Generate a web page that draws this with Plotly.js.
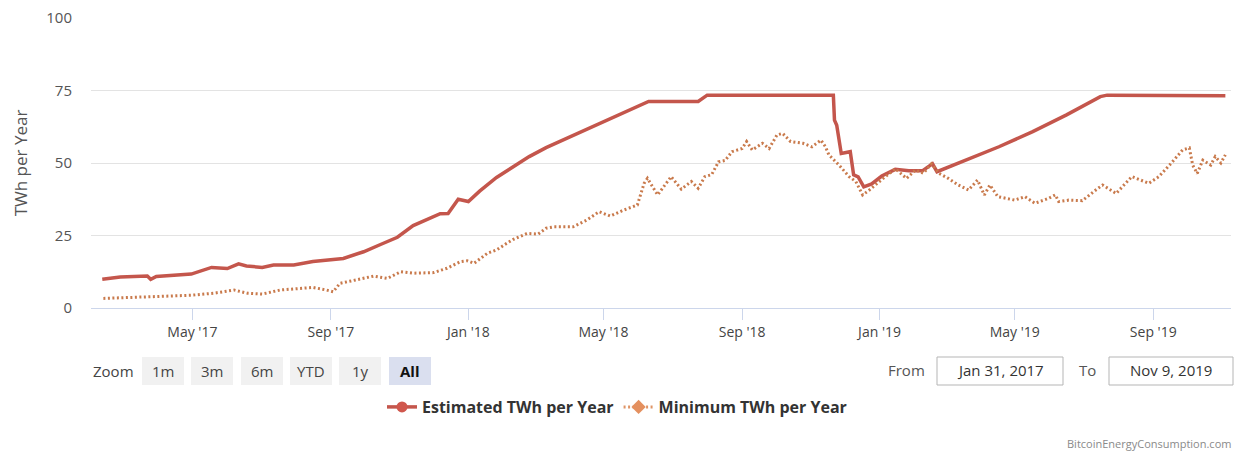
<!DOCTYPE html>
<html>
<head>
<meta charset="utf-8">
<script src="https://cdn.plot.ly/plotly-3.0.1.min.js"></script>
<style>
  html, body { margin: 0; padding: 0; background: #ffffff; }
  #chart { width: 1235px; height: 452px; }
</style>
</head>
<body>
<div id="chart"></div>
<script>
// ---------------- DATA ----------------
const estDates = ['2017-02-10','2017-02-26','2017-03-22','2017-03-25','2017-03-30','2017-04-30','2017-05-18','2017-06-01','2017-06-11','2017-06-18','2017-07-02','2017-07-12','2017-07-30','2017-08-16','2017-09-12','2017-09-30','2017-10-15','2017-10-30','2017-11-13','2017-11-25','2017-12-07','2017-12-14','2017-12-23','2018-01-01','2018-01-11','2018-01-26','2018-02-10','2018-02-24','2018-03-11','2018-03-29','2018-04-19','2018-05-10','2018-05-28','2018-06-10','2018-07-24','2018-08-01','2018-11-21','2018-11-22','2018-11-24','2018-11-28','2018-12-06','2018-12-09','2018-12-13','2018-12-18','2018-12-25','2019-01-03','2019-01-15','2019-01-27','2019-02-08','2019-02-17','2019-02-21','2019-03-18','2019-04-17','2019-05-17','2019-06-16','2019-07-16','2019-07-22','2019-11-04'];
const estValues = [9.9,10.7,11.0,9.9,10.9,11.7,14.0,13.6,15.2,14.5,14.0,14.8,14.8,16.0,17.1,19.4,21.9,24.4,28.4,30.5,32.5,32.6,37.5,36.7,40.3,45.0,48.6,52.2,55.3,58.5,62.0,66.0,69.2,71.2,71.2,73.4,73.4,64.8,63.0,53.3,53.9,45.9,45.2,41.8,42.8,45.5,47.8,47.3,47.3,49.7,47.0,51.0,55.6,60.8,66.6,72.9,73.4,73.2];

const minDates = ['2017-02-11','2017-02-26','2017-03-22','2017-04-12','2017-04-30','2017-05-20','2017-06-07','2017-06-19','2017-07-02','2017-07-18','2017-08-16','2017-08-28','2017-09-03','2017-09-09','2017-09-30','2017-10-09','2017-10-21','2017-11-02','2017-11-13','2017-12-01','2017-12-13','2017-12-25','2017-12-31','2018-01-06','2018-01-18','2018-01-26','2018-02-04','2018-02-10','2018-02-22','2018-03-04','2018-03-11','2018-03-18','2018-04-04','2018-04-16','2018-04-27','2018-05-07','2018-05-19','2018-05-31','2018-06-06','2018-06-09','2018-06-18','2018-06-30','2018-07-09','2018-07-18','2018-07-24','2018-07-30','2018-08-05','2018-08-11','2018-08-17','2018-08-23','2018-09-01','2018-09-05','2018-09-10','2018-09-19','2018-09-25','2018-10-02','2018-10-07','2018-10-14','2018-10-25','2018-11-02','2018-11-10','2018-11-14','2018-11-17','2018-11-26','2018-12-05','2018-12-11','2018-12-17','2018-12-23','2019-01-03','2019-01-15','2019-01-25','2019-02-02','2019-02-09','2019-02-16','2019-02-23','2019-03-03','2019-03-12','2019-03-21','2019-03-29','2019-04-04','2019-04-09','2019-04-16','2019-05-01','2019-05-10','2019-05-19','2019-05-31','2019-06-06','2019-06-09','2019-06-18','2019-06-30','2019-07-12','2019-07-18','2019-07-30','2019-08-13','2019-08-28','2019-09-06','2019-09-18','2019-09-27','2019-10-03','2019-10-06','2019-10-10','2019-10-15','2019-10-22','2019-10-26','2019-10-31','2019-11-04'];
const minValues = [3.3,3.5,3.9,4.1,4.4,5.1,6.2,5.1,4.8,6.2,7.1,6.2,5.6,8.5,10.2,11.0,10.2,12.5,12.0,12.2,13.7,16.0,16.3,15.4,18.9,20.0,22.3,23.7,25.7,25.5,27.5,28.0,28.0,30.3,33.2,31.7,33.8,35.5,43.0,44.7,39.0,45.3,41.0,43.6,41.3,45.3,46.0,50.4,50.9,53.9,55.0,57.4,54.5,56.8,55.0,59.7,60.2,57.4,56.8,55.6,57.9,55.6,52.8,49.3,45.3,43.6,39.0,40.7,44.3,48.0,44.7,47.6,46.5,49.7,46.4,44.7,42.4,40.7,44.1,39.0,42.4,38.4,37.2,38.4,36.1,37.8,39.0,36.7,37.2,37.0,40.7,42.4,39.5,45.3,43.0,45.3,50.4,54.5,55.2,49.3,46.4,51.0,49.3,52.2,50.0,52.8];

const seriesNames = ['Estimated TWh per Year', 'Minimum TWh per Year'];
const yTickValues = [0, 25, 50, 75, 100];
const zoomButtons = ['1m', '3m', '6m', 'YTD', '1y', 'All'];
const rangeFrom = 'Jan 31, 2017';
const rangeTo = 'Nov 9, 2019';
const xRange = ['2017-01-31', '2019-11-09'];
const yTitle = 'TWh per Year';
const creditText = 'BitcoinEnergyConsumption.com';

// ---------------- LAYOUT HELPERS ----------------
const W = 1235, H = 452;
const ML = 91, MR = 4, MT = 18, MB = 144;
const PW = W - ML - MR, PH = H - MT - MB;
const px = x => (x - ML) / PW;
const py = y => (MT + PH - y) / PH;

const FONT = 'Open Sans, Lato, sans-serif';
const RED = '#c4564c';
const ORANGE = '#c97a4c';

const traces = [
  {
    x: estDates, y: estValues, name: seriesNames[0], type: 'scatter',
    mode: 'lines', showlegend: false, legendgroup: 'est',
    line: { color: RED, width: 3.5 },
    hoverinfo: 'x+y+name'
  },
  {
    x: minDates, y: minValues, name: seriesNames[1], type: 'scatter',
    mode: 'lines', showlegend: false, legendgroup: 'min',
    line: { color: ORANGE, width: 3, dash: '2px,2.5px' },
    hoverinfo: 'x+y+name'
  },
  // legend entries (line + marker symbol, as in the reference legend)
  {
    x: [null], y: [null], name: seriesNames[0], type: 'scatter', legendgroup: 'est',
    mode: 'lines+markers', line: { color: RED, width: 3.5 },
    marker: { color: '#d0574d', size: 11, symbol: 'circle' }
  },
  {
    x: [null], y: [null], name: seriesNames[1], type: 'scatter', legendgroup: 'min',
    mode: 'lines+markers', line: { color: '#df9466', width: 3, dash: '2px,2.5px' },
    marker: { color: '#e4905f', size: 11, symbol: 'diamond' }
  }
];

const shapes = [];
const annotations = [];

// Zoom label
annotations.push({ xref: 'paper', yref: 'paper', x: px(91), y: py(371), xanchor: 'left', yanchor: 'middle',
  text: 'Zoom', showarrow: false, font: { family: FONT, size: 15, color: '#444' } });

// Buttons
const btnLeft = [142, 191, 241, 290, 339, 389];
const btnW = 42;
zoomButtons.forEach((b, i) => {
  const active = (b === 'All');
  shapes.push({ type: 'rect', xref: 'paper', yref: 'paper', x0: px(btnLeft[i]), x1: px(btnLeft[i] + btnW),
    y0: py(385), y1: py(357), fillcolor: active ? '#dadfef' : '#f1f1f1', line: { width: 0 }, layer: 'above' });
  annotations.push({ xref: 'paper', yref: 'paper', x: px(btnLeft[i] + btnW / 2), y: py(371), xanchor: 'center', yanchor: 'middle',
    text: active ? '<b>' + b + '</b>' : b, showarrow: false,
    font: { family: FONT, size: 15, color: active ? '#111' : '#444' } });
});

// From / To
annotations.push({ xref: 'paper', yref: 'paper', x: px(927), y: py(370), xanchor: 'right', yanchor: 'middle',
  text: 'From', showarrow: false, font: { family: FONT, size: 15, color: '#555' } });
shapes.push({ type: 'rect', xref: 'paper', yref: 'paper', x0: px(937), x1: px(1063), y0: py(385), y1: py(357),
  line: { color: '#b5b5b5', width: 1 }, fillcolor: 'rgba(0,0,0,0)' });
annotations.push({ xref: 'paper', yref: 'paper', x: px(1000), y: py(370), xanchor: 'center', yanchor: 'middle',
  text: rangeFrom, showarrow: false, font: { family: FONT, size: 15, color: '#333' } });
annotations.push({ xref: 'paper', yref: 'paper', x: px(1098), y: py(370), xanchor: 'right', yanchor: 'middle',
  text: 'To', showarrow: false, font: { family: FONT, size: 15, color: '#555' } });
shapes.push({ type: 'rect', xref: 'paper', yref: 'paper', x0: px(1109), x1: px(1233), y0: py(385), y1: py(357),
  line: { color: '#b5b5b5', width: 1 }, fillcolor: 'rgba(0,0,0,0)' });
annotations.push({ xref: 'paper', yref: 'paper', x: px(1171), y: py(370), xanchor: 'center', yanchor: 'middle',
  text: rangeTo, showarrow: false, font: { family: FONT, size: 15, color: '#333' } });

// Credit
annotations.push({ xref: 'paper', yref: 'paper', x: px(1233), y: py(443), xanchor: 'right', yanchor: 'middle',
  text: creditText, showarrow: false, font: { family: FONT, size: 11, color: '#8a8a8a' } });

const layout = {
  width: W, height: H,
  margin: { l: ML, r: MR, t: MT, b: MB, pad: 0 },
  paper_bgcolor: '#ffffff', plot_bgcolor: '#ffffff',
  showlegend: true,
  legend: {
    orientation: 'h', x: px(617), xanchor: 'center', y: py(407), yanchor: 'middle',
    font: { family: FONT, size: 16, color: '#333', weight: 'bold' },
    itemsizing: 'trace', itemwidth: 30, bgcolor: 'rgba(0,0,0,0)', traceorder: 'normal'
  },
  xaxis: {
    type: 'date', range: xRange, autorange: false,
    tick0: '2017-01-01', dtick: 'M4', tickformat: "%b '%y",
    ticks: 'outside', ticklen: 11, tickcolor: '#ccd6eb', tickwidth: 1,
    showline: true, linecolor: '#ccd6eb', linewidth: 1,
    showgrid: false, zeroline: false,
    tickfont: { family: FONT, size: 14, color: '#444' },
    fixedrange: true
  },
  yaxis: {
    range: [0, 100], autorange: false, tickvals: yTickValues,
    showgrid: true, gridcolor: '#e3e3e3', gridwidth: 1,
    zeroline: false, showline: false, ticks: '',
    ticklabelstandoff: 18,
    tickfont: { family: FONT, size: 15, color: '#555' },
    title: { text: yTitle, standoff: 14, font: { family: FONT, size: 17, color: '#555' } },
    fixedrange: true
  },
  shapes: shapes,
  annotations: annotations
};

Plotly.newPlot('chart', traces, layout, { displayModeBar: false });
</script>
</body>
</html>
